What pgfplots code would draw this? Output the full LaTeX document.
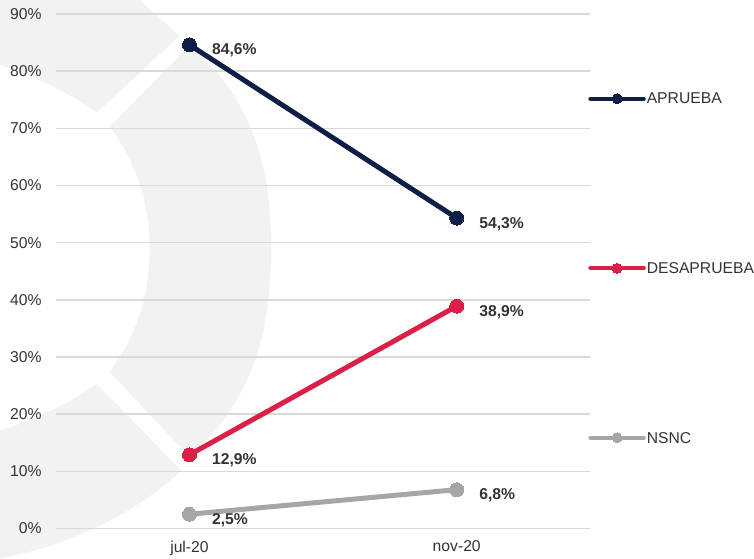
\documentclass[border=0pt]{standalone}
\usepackage{fontspec}
\setmainfont{Liberation Sans}
\usepackage{pgfplots}
\pgfplotsset{compat=1.18}
\definecolor{aprueba}{HTML}{0F1E47}
\definecolor{desaprueba}{HTML}{DC1F47}
\definecolor{nsnc}{HTML}{A6A6A6}
\definecolor{gridc}{HTML}{D9D9D9}
\definecolor{wm}{HTML}{F2F2F2}
\definecolor{txt}{HTML}{333333}
\newcommand{\lblfont}{\fontsize{11.8}{13}\selectfont}

\begin{document}
\begin{tikzpicture}
% page frame and faint watermark, in pixel units of the reference
\begin{scope}[x=0.75pt,y=-0.75pt,shift={(-42pt,397.5pt)}]
  \path[use as bounding box] (0,0) rectangle (754,560);
  \fill[wm] (0,0) -- (140,0) -- (180,36) -- (97,113)
    .. controls (70,93) and (35,77) .. (0,65) -- cycle;
  \fill[wm] (110,127) -- (190,46) .. controls (255,100) and (272,170) .. (272,250)
    .. controls (272,330) and (255,400) .. (190,458) -- (110,373)
    .. controls (138,335) and (150,295) .. (150,250)
    .. controls (150,205) and (138,165) .. (110,127) -- cycle;
  \fill[wm] (0,432) .. controls (35,420) and (70,405) .. (97,385) -- (182,472)
    .. controls (140,510) and (80,545) .. (0,560) -- cycle;
\end{scope}

\begin{axis}[
  at={(0,0)}, anchor=south west,
  scale only axis,
  width=402pt, height=387pt,
  xmin=-0.5, xmax=1.5,
  ymin=0, ymax=90,
  xtick={0,1},
  xticklabels={jul-20,nov-20},
  ytick={0,10,...,90},
  yticklabel={\pgfmathprintnumber{\tick}\%},
  /pgf/number format/assume math mode=true,
  ymajorgrids,
  grid style={gridc, line width=1.2pt},
  axis line style={draw=none},
  major tick length=0pt,
  tick label style={font=\lblfont, text=txt},
  yticklabel style={anchor=east, inner sep=0pt, xshift=-10.5pt},
  xticklabel style={anchor=north, inner sep=0pt, yshift=-9pt},
  clip=false,
  point meta=y,
  nodes near coords align=horizontal,
  every node near coord/.append style={inner sep=0pt, xshift=17pt, yshift=-4.3pt,
    font=\bfseries\lblfont, text=txt},
]
% series
\addplot[aprueba, line width=3.75pt, mark=*, mark size=5.25pt,
  mark options={solid, line width=0pt},
  nodes near coords={\pgfmathprintnumber[fixed,fixed zerofill,precision=1,use comma]{\pgfplotspointmeta}\%}]
  coordinates {(0,84.6) (1,54.3)};
\addplot[desaprueba, line width=3.75pt, mark=*, mark size=5.25pt,
  mark options={solid, line width=0pt},
  nodes near coords={\pgfmathprintnumber[fixed,fixed zerofill,precision=1,use comma]{\pgfplotspointmeta}\%}]
  coordinates {(0,12.9) (1,38.9)};
\addplot[nsnc, line width=3.75pt, mark=*, mark size=5.25pt,
  mark options={solid, line width=0pt},
  nodes near coords={\pgfmathprintnumber[fixed,fixed zerofill,precision=1,use comma]{\pgfplotspointmeta}\%}]
  coordinates {(0,2.5) (1,6.8)};

% legend entries at the right
\addplot[aprueba, line width=3pt, line cap=round, mark=*, mark size=3.75pt,
  mark indices={2}, mark options={line width=0pt}]
  coordinates {(1.5,75.2) (1.6,75.2) (1.7,75.2)};
\addplot[desaprueba, line width=3pt, line cap=round, mark=*, mark size=3.75pt,
  mark indices={2}, mark options={line width=0pt}]
  coordinates {(1.5,45.5) (1.6,45.5) (1.7,45.5)};
\addplot[nsnc, line width=3pt, line cap=round, mark=*, mark size=3.75pt,
  mark indices={2}, mark options={line width=0pt}]
  coordinates {(1.5,15.9) (1.6,15.9) (1.7,15.9)};
\node[anchor=west, inner sep=0pt, font=\lblfont, text=txt] at (axis cs:1.71,75.2) {APRUEBA};
\node[anchor=west, inner sep=0pt, font=\lblfont, text=txt] at (axis cs:1.71,45.5) {DESAPRUEBA};
\node[anchor=west, inner sep=0pt, font=\lblfont, text=txt] at (axis cs:1.71,15.9) {NSNC};
\end{axis}
\end{tikzpicture}
\end{document}
